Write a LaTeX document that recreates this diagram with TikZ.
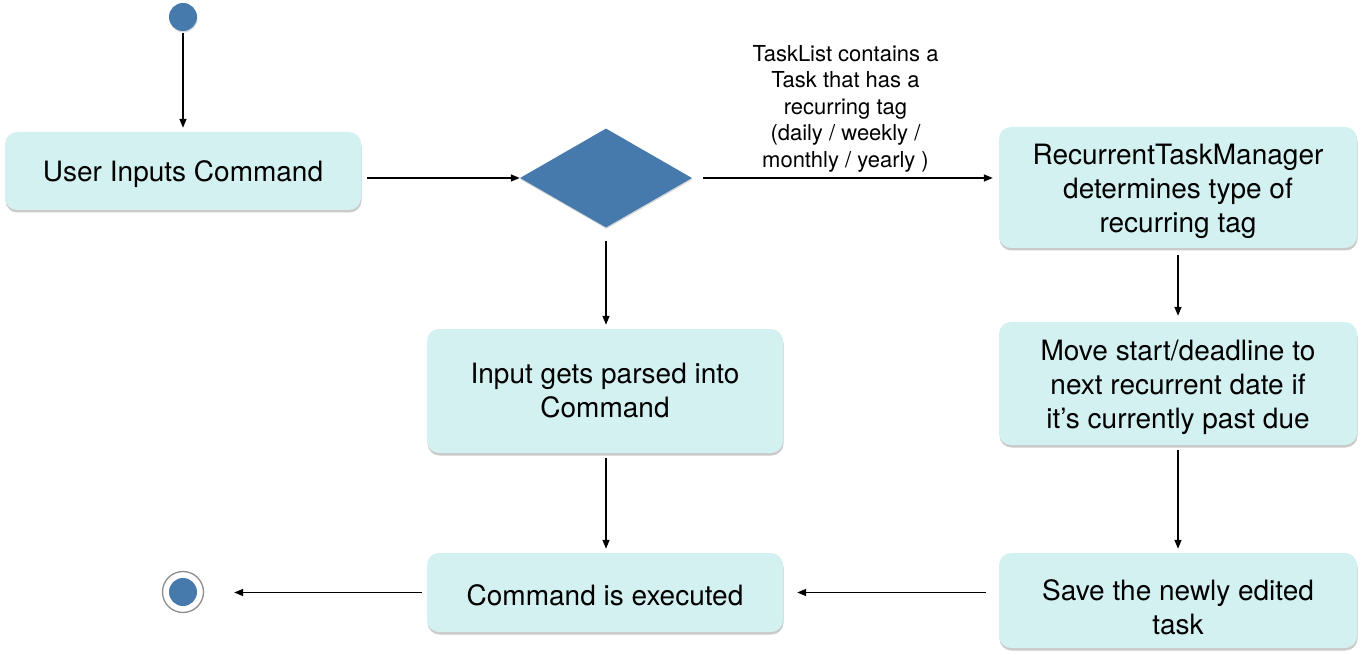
\documentclass[tikz,border=0pt]{standalone}
\usepackage{fontspec}
\setmainfont{TeX Gyre Heros}
\usetikzlibrary{shapes.geometric,shadows,arrows.meta}
\definecolor{actfill}{RGB}{212,241,241}
\definecolor{nodeblue}{RGB}{70,121,172}
\newcommand{\lift}[1][28pt]{\rule{0pt}{#1}}
\begin{document}
\begin{tikzpicture}[x=1pt,y=-1pt,
    act/.style={rectangle, rounded corners=12pt, fill=actfill, align=center, inner sep=0pt,
        minimum width=356pt, font=\fontsize{28}{34}\selectfont,
        drop shadow={shadow xshift=0.5pt, shadow yshift=-2.5pt, opacity=0.35, fill=black!60}},
    initial/.style={circle, fill=nodeblue, minimum size=28pt, inner sep=0pt,
        drop shadow={shadow xshift=0.5pt, shadow yshift=-1.5pt, opacity=0.25, fill=black!60}},
    final/.style={circle, draw=black!45, line width=1.3pt, fill=white, minimum size=41pt, inner sep=0pt,
        path picture={\fill[nodeblue] (path picture bounding box.center) circle (14pt);}},
    choice/.style={diamond, fill=nodeblue, minimum width=172pt, minimum height=99pt, inner sep=0pt,
        drop shadow={shadow xshift=0.5pt, shadow yshift=-1.5pt, opacity=0.25, fill=black!60}},
    flow/.style={-{Triangle[length=9pt,width=7pt]}, line width=1.4pt},
    guard/.style={font=\fontsize{22}{26.4}\selectfont, align=center}]
    \useasboundingbox (0,0) rectangle (1361,655);
    \node [initial] (start) at (183,17) {};
    \node [act, minimum height=78pt] (uic) at (183,171) {\lift User Inputs Command};
    \node [choice] (dec) at (606,178) {};
    \node [act, minimum width=358pt, minimum height=121pt] (rtm) at (1178,187.5) {\lift RecurrentTaskManager\\determines type of\\recurring tag};
    \node [act, minimum width=358pt, minimum height=123pt] (move) at (1178,383.5) {\lift Move start/deadline to\\next recurrent date if\\it’s currently past due};
    \node [act, minimum height=124pt] (parse) at (605,391) {Input gets parsed into\\Command};
    \node [act, minimum height=79pt] (exec) at (605,592.5) {\lift[26pt]Command is executed};
    \node [act, minimum width=358pt, minimum height=95pt] (save) at (1178,600.5) {\lift[34pt]Save the newly edited\\task};
    \node [final] (stop) at (183,592) {};
    \draw [flow, shorten <=2pt, shorten >=4pt] (start) -- (uic);
    \draw [flow, shorten <=6pt] (uic.east |- dec.west) -- (dec.west);
    \draw [flow, shorten <=11pt, shorten >=6pt] (dec.east) -- (dec.east -| rtm.west)
        node [guard, midway, above=2pt] {TaskList contains a\\Task that has a\\recurring tag\\(daily / weekly /\\monthly / yearly )};
    \draw [flow, shorten <=13pt, shorten >=4pt] (dec.south) -- (dec.south |- parse.north);
    \draw [flow, shorten <=7pt, shorten >=6pt] (rtm) -- (move);
    \draw [flow, shorten <=5pt, shorten >=4pt] (parse.south -| dec.south) -- (dec.south |- exec.north);
    \draw [flow, shorten <=5pt, shorten >=4pt] (move) -- (save);
    \draw [flow, shorten <=13pt, shorten >=14pt] (save.west |- exec.east) -- (exec.east);
    \draw [flow, shorten <=5pt, shorten >=30pt] (exec.west) -- (exec.west -| stop.east);
\end{tikzpicture}
\end{document}
